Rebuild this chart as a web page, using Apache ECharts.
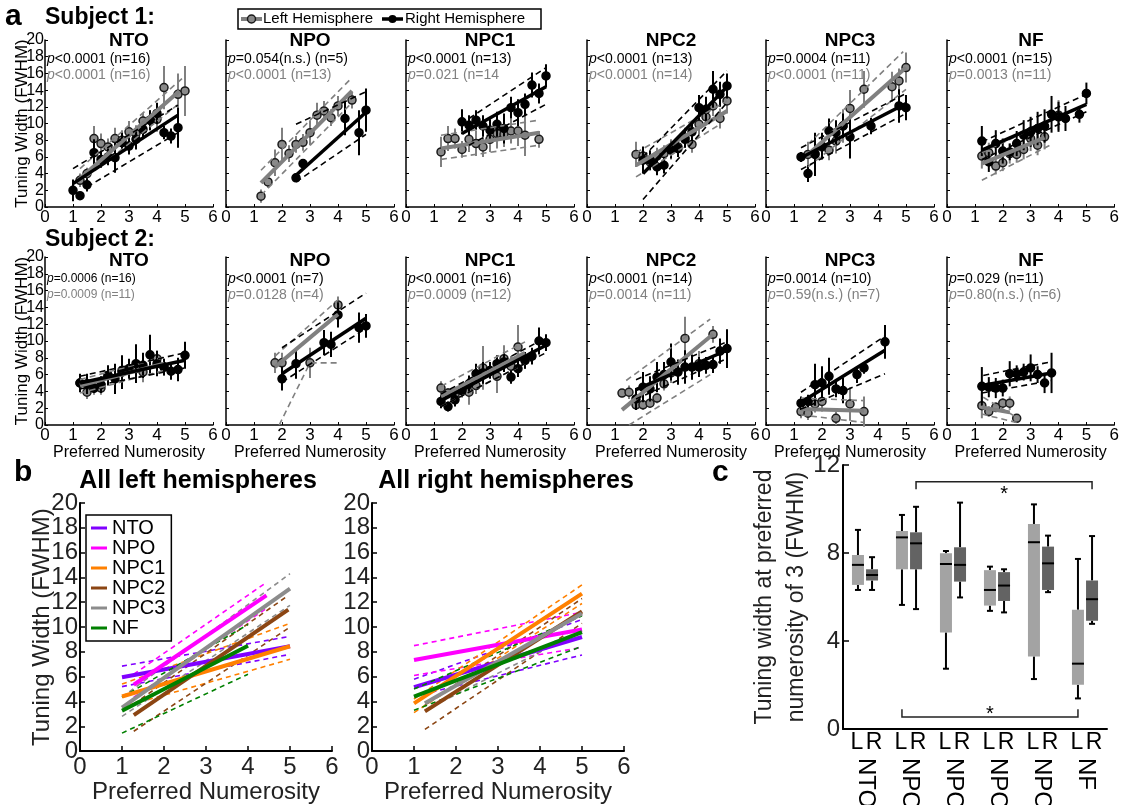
<!DOCTYPE html>
<html>
<head>
<meta charset="utf-8">
<script src="https://cdn.jsdelivr.net/npm/echarts@6/dist/echarts.min.js"></script>
<style>
  html, body { margin: 0; background: #fff; }
  #chart { width: 1122px; height: 805px; }
</style>
</head>
<body>
<div id="chart"></div>
<script>
  var REGIONS = ['NTO', 'NPO', 'NPC1', 'NPC2', 'NPC3', 'NF'];

  // ---- panel a : points are [preferred numerosity, FWHM, error half length]
  // fits are [fit line, upper bound, lower bound], each a flat list x1,y1,x2,y2(,x3,y3)
  var S1_NTO_L = [[1.25,3.2,0.8],[1.5,4.0,0.7],[1.75,8.2,1.5],[2.0,7.6,1.2],[2.25,7.2,1.0],[2.5,8.2,1.3],[2.75,8.0,1.2],[3.0,9.0,1.3],[3.25,8.8,1.0],[3.5,10.3,1.0],[3.75,10.4,1.2],[4.0,10.5,1.5],[4.25,14.3,2.6],[4.75,13.5,2.5],[5.0,13.9,3.0]];
  var S1_NTO_R = [[1.0,2.0,1.3],[1.25,1.35,0.4],[1.5,2.65,0.8],[1.75,6.5,1.6],[2.0,5.7,1.0],[2.25,6.0,1.0],[2.5,5.9,1.8],[2.75,7.7,1.2],[3.0,7.3,1.0],[3.25,8.1,1.2],[3.5,9.3,1.0],[3.75,10.4,1.2],[4.0,11.2,1.3],[4.25,8.9,0.8],[4.5,8.5,0.9],[4.75,9.5,2.4]];
  var S1_NTO_LFIT = [[1.25,3.4,4.8,13.9],[1.25,4.6,4.9,15.4],[1.5,3.6,4.8,12.4]];
  var S1_NTO_RFIT = [[1.0,2.8,4.75,11.0],[1.0,4.6,4.75,12.2],[1.5,2.4,4.75,8.9]];

  var S1_NPO_L = [[1.25,1.3,0.8],[1.5,3.0,0.7],[1.75,5.3,1.6],[2.0,7.5,2.0],[2.25,6.4,1.0],[2.5,7.5,1.0],[2.75,7.75,1.0],[3.0,8.9,1.5],[3.25,11.0,1.5],[3.5,11.5,1.2],[3.75,10.7,1.0],[4.0,12.1,1.2],[4.5,12.8,1.0]];
  var S1_NPO_R = [[2.5,3.5,0.5],[2.75,5.2,0.5],[4.25,10.6,2.0],[4.75,8.9,2.7],[5.0,11.6,2.6]];
  var S1_NPO_LFIT = [[1.25,2.9,4.5,13.9],[1.25,4.4,4.5,15.5],[1.25,1.4,4.5,12.5]];
  var S1_NPO_RFIT = [[2.5,3.8,5.0,11.35],[2.5,9.9,5.0,13.8],[2.5,3.0,5.0,8.7]];

  var S1_NPC1_L = [[1.25,6.6,1.8],[1.5,8.2,1.5],[1.75,8.2,1.2],[2.0,6.9,1.0],[2.25,8.1,1.5],[2.5,7.6,1.5],[2.75,7.2,1.2],[3.0,8.1,1.5],[3.25,8.8,1.8],[3.5,8.7,1.5],[3.75,9.1,1.5],[4.0,9.1,1.8],[4.25,8.6,2.5],[4.75,8.1,1.0]];
  var S1_NPC1_R = [[2.0,10.2,1.5],[2.25,9.8,1.2],[2.5,10.4,1.2],[2.75,9.7,1.3],[3.0,9.2,1.3],[3.25,9.9,1.5],[3.5,9.4,1.8],[3.75,11.9,1.3],[4.0,11.3,1.6],[4.25,12.3,1.3],[4.5,14.6,1.5],[4.75,13.6,1.2],[5.0,15.7,1.4]];
  var S1_NPC1_LFIT = [[1.25,7.0,4.75,8.9],[1.25,8.6,4.75,10.4],[1.25,5.7,4.75,7.4]];
  var S1_NPC1_RFIT = [[2.0,8.8,5.0,14.4],[2.25,10.6,5.0,16.7],[2.25,7.4,5.0,12.3]];

  var S1_NPC2_L = [[1.75,6.3,1.5],[2.0,6.1,1.2],[2.25,5.4,1.0],[2.5,6.1,1.0],[2.75,6.4,1.0],[3.0,6.9,1.2],[3.25,7.2,1.0],[3.5,8.3,1.2],[3.75,7.5,1.0],[4.0,9.9,1.2],[4.25,10.8,1.0],[4.5,12.1,1.2],[4.75,10.6,1.2],[5.0,12.7,1.5]];
  var S1_NPC2_R = [[2.0,5.6,1.6],[2.25,5.6,1.2],[2.5,4.8,1.0],[2.75,5.0,1.0],[3.0,6.8,1.0],[3.25,7.0,1.0],[3.5,8.1,1.0],[3.75,9.0,1.2],[4.0,11.9,1.5],[4.25,11.7,1.5],[4.5,14.1,2.2],[4.75,13.5,1.5],[5.0,14.5,1.5]];
  var S1_NPC2_LFIT = [[1.75,5.0,5.0,11.5],[1.75,6.5,5.0,12.7],[1.75,3.6,4.75,9.9]];
  var S1_NPC2_RFIT = [[2.0,4.0,5.0,14.4],[2.0,6.0,5.0,16.3],[2.0,0.9,5.0,12.5]];

  var S1_NPC3_L = [[1.5,6.3,1.5],[1.75,6.4,1.5],[2.0,7.2,1.2],[2.25,6.8,1.2],[2.5,7.9,1.5],[2.75,9.7,2.0],[3.0,11.8,2.2],[3.5,14.1,2.2],[4.5,14.4,1.8],[4.75,15.1,1.5],[5.0,16.7,1.8]];
  var S1_NPC3_R = [[1.25,6.0,0.6],[1.5,4.0,1.0],[1.75,6.3,2.6],[2.0,7.3,1.6],[2.25,9.1,1.5],[2.5,8.9,1.5],[2.75,9.7,1.5],[3.0,8.4,2.6],[3.75,9.7,1.0],[4.75,12.1,2.0],[5.0,11.9,1.5]];
  var S1_NPC3_LFIT = [[1.5,6.3,5.0,16.7],[1.5,7.5,4.9,18.6],[1.5,4.8,5.0,14.1]];
  var S1_NPC3_RFIT = [[1.25,5.9,5.0,12.4],[1.25,7.1,5.0,13.6],[1.25,4.5,5.0,11.2]];

  var S1_NF_L = [[1.25,6.1,1.5],[1.5,6.5,1.2],[1.75,4.9,1.0],[2.0,5.3,1.0],[2.25,6.4,1.2],[2.5,6.3,1.0],[2.75,6.9,1.2],[3.0,8.2,1.5],[3.25,7.4,1.2],[3.5,8.4,1.5],[4.0,11.0,1.8]];
  var S1_NF_R = [[1.25,7.9,1.8],[1.5,5.4,1.2],[1.75,7.6,1.6],[2.0,6.7,1.5],[2.25,6.6,1.0],[2.5,7.6,1.5],[2.75,8.6,1.8],[3.0,9.0,1.8],[3.25,9.4,2.0],[3.5,9.7,2.0],[3.75,11.1,2.2],[4.0,10.8,1.8],[4.25,10.6,1.5],[4.75,11.1,1.0],[5.0,13.6,1.3]];
  var S1_NF_LFIT = [[1.25,5.2,3.5,8.3],[1.25,6.5,4.0,10.9],[1.25,3.2,3.75,7.5]];
  var S1_NF_RFIT = [[1.25,6.8,5.0,12.3],[1.25,7.8,5.0,13.5],[1.25,5.7,5.0,11.4]];

  var S2_NTO_L = [[1.25,5.0,1.0],[1.5,3.9,0.8],[1.75,4.4,0.8],[2.0,4.4,0.8],[2.25,5.9,1.0],[2.75,6.5,1.2],[3.0,6.7,1.0],[3.25,6.7,1.5],[3.5,6.3,1.2],[4.0,7.9,1.0],[4.25,6.9,1.0]];
  var S2_NTO_R = [[1.25,5.0,1.1],[1.5,4.9,1.2],[1.75,4.4,0.6],[2.0,4.8,1.0],[2.25,5.9,1.2],[2.5,5.5,1.8],[2.75,6.3,2.0],[3.0,6.7,1.2],[3.25,7.3,2.3],[3.5,7.1,1.5],[3.75,8.35,2.4],[4.0,7.3,1.5],[4.25,6.9,1.0],[4.5,6.4,1.0],[4.75,6.6,1.4],[5.0,8.3,1.6]];
  var S2_NTO_LFIT = [[1.25,4.7,4.25,7.3],[1.25,5.4,4.25,8.1],[1.25,3.8,4.25,6.5]];
  var S2_NTO_RFIT = [[1.25,5.0,5.0,7.7],[1.25,5.8,5.0,8.6],[1.25,4.3,5.0,6.8]];

  var S2_NPO_L = [[1.75,7.4,1.2],[2.0,7.4,1.2],[3.0,7.4,1.8],[4.0,14.3,1.0]];
  var S2_NPO_R = [[2.0,5.5,1.4],[2.5,7.3,1.8],[3.5,9.8,1.5],[3.75,9.6,1.5],[4.0,13.1,1.5],[4.75,11.6,1.8],[5.0,11.8,1.4]];
  var S2_NPO_LFIT = [[1.75,6.9,4.0,13.2],[1.75,8.2,4.0,14.9],[1.9,0,3.0,7.4,4.0,7.4]];
  var S2_NPO_RFIT = [[2.0,6.1,5.0,12.7],[2.0,9.2,5.0,15.7],[2.0,5.1,5.0,11.5]];

  var S2_NPC1_L = [[1.25,4.4,0.8],[1.5,3.8,0.6],[1.75,3.6,0.6],[2.0,4.1,0.8],[2.25,3.9,1.5],[2.5,4.7,1.0],[2.75,6.8,2.6],[3.25,5.8,2.0],[3.5,7.9,1.6],[3.75,7.0,1.2],[4.0,9.3,2.6],[4.25,7.7,1.0]];
  var S2_NPC1_R = [[1.25,2.8,0.8],[1.5,2.2,0.6],[1.75,3.0,0.8],[2.0,4.1,0.8],[2.25,4.9,1.0],[2.5,6.1,1.2],[2.75,6.2,1.3],[3.0,6.5,1.0],[3.25,7.3,1.0],[3.5,7.5,1.2],[3.75,5.7,0.8],[4.0,6.7,1.0],[4.25,7.7,1.0],[4.5,8.2,1.0],[4.75,10.0,1.6],[5.0,9.8,1.0]];
  var S2_NPC1_LFIT = [[1.25,3.4,4.25,8.6],[1.25,4.6,4.25,9.9],[1.25,2.2,4.25,7.3]];
  var S2_NPC1_RFIT = [[1.25,2.9,5.0,9.5],[1.25,3.7,5.0,10.4],[1.25,2.2,5.0,8.6]];

  var S2_NPC2_L = [[1.25,3.8,0.5],[1.5,3.9,0.8],[1.75,2.4,0.6],[2.0,2.4,0.6],[2.25,2.6,0.5],[2.5,3.2,0.6],[2.75,4.9,0.8],[3.0,6.2,1.2],[3.5,10.3,2.6],[4.0,7.3,1.5],[4.5,10.8,1.0]];
  var S2_NPC2_R = [[1.75,3.1,1.3],[2.0,4.5,1.8],[2.25,4.3,1.5],[2.5,5.7,1.8],[2.75,6.0,1.5],[3.0,7.5,2.2],[3.25,6.3,1.5],[3.5,6.9,2.0],[3.75,6.9,1.5],[4.0,6.9,1.2],[4.25,7.1,1.0],[4.5,7.2,1.0],[4.75,8.8,1.5],[5.0,9.1,2.3]];
  var S2_NPC2_LFIT = [[1.25,1.8,4.5,10.8],[1.4,5.3,4.4,12.6],[1.5,0,4.4,6.0]];
  var S2_NPC2_RFIT = [[1.75,4.2,5.0,8.9],[1.75,5.4,5.0,9.9],[1.75,3.1,5.0,7.9]];

  var S2_NPC3_L = [[1.25,1.6,0.8],[1.5,1.4,0.8],[1.75,2.5,1.0],[2.0,2.8,1.2],[2.5,0.8,0.8],[3.0,2.5,2.0],[3.5,1.6,1.8]];
  var S2_NPC3_R = [[1.25,2.6,0.8],[1.5,2.8,0.8],[1.75,4.8,2.5],[2.0,5.0,2.0],[2.25,5.8,2.2],[2.5,4.3,1.0],[2.75,4.1,1.5],[3.25,6.0,1.0],[3.5,6.8,0.7],[4.25,9.9,2.0]];
  var S2_NPC3_LFIT = [[1.25,1.9,3.5,1.7],[1.25,3.2,3.5,2.9],[1.25,1.2,3.5,0.3]];
  var S2_NPC3_RFIT = [[1.25,2.7,4.25,8.9],[1.25,3.9,4.25,10.6],[1.25,1.9,4.25,6.1]];

  var S2_NF_L = [[1.25,2.3,1.5],[1.5,1.6,0.6],[1.75,2.1,0.6],[2.0,2.6,0.6],[2.25,2.6,0.8],[2.5,0.8,0.5]];
  var S2_NF_R = [[1.25,4.6,2.3],[1.5,4.5,1.2],[1.75,4.4,1.2],[2.0,4.4,1.0],[2.25,6.1,1.5],[2.5,6.1,1.0],[2.75,6.3,1.0],[3.0,6.8,1.6],[3.25,6.0,1.0],[3.5,5.0,1.2],[3.75,6.2,2.4]];
  var S2_NF_LFIT = [[1.25,2.1,2.25,1.5],[1.3,3.3,2.5,0.9],[1.25,1.3,2.5,0.3]];
  var S2_NF_RFIT = [[1.25,4.7,3.75,6.2],[1.3,5.9,3.7,7.5],[1.25,3.8,3.75,5.3]];

  // p-values (black = right hemisphere, grey = left hemisphere), the leading italic p is added when drawn
  var S1_P_RIGHT = ['<0.0001 (n=16)', '=0.054(n.s.) (n=5)', '<0.0001 (n=13)', '<0.0001 (n=13)', '=0.0004 (n=11)', '<0.0001 (n=15)'];
  var S1_P_LEFT  = ['<0.0001 (n=16)', '<0.0001 (n=13)', '=0.021 (n=14', '<0.0001 (n=14)', '<0.0001 (n=11)', '=0.0013 (n=11)'];
  var S2_P_RIGHT = ['=0.0006 (n=16)', '<0.0001 (n=7)', '<0.0001 (n=16)', '<0.0001 (n=14)', '=0.0014 (n=10)', '=0.029 (n=11)'];
  var S2_P_LEFT  = ['=0.0009 (n=11)', '=0.0128 (n=4)', '=0.0009 (n=12)', '=0.0014 (n=11)', '=0.59(n.s.) (n=7)', '=0.80(n.s.) (n=6)'];

  // ---- panel b : group fits, [x1, y1, x2, y2] per region
  var ALL_L_FIT = [[1,5.95,5,8.45],[1.28,5.35,4.44,12.55],[1,4.4,5,8.45],[1.28,2.9,4.96,11.4],[1,3.5,5,13.1],[1,3.25,4,8.5]];
  var ALL_L_HI  = [[1,6.85,5,9.25],[1.28,6.2,4.44,13.6],[1,5.4,5,10.3],[1.28,3.8,4.96,12.55],[1,4.35,5,14.3],[1,4.35,4,10.2]];
  var ALL_L_LO  = [[1,5.2,5,7.8],[1.28,4.35,4.44,11.5],[1,3.55,5,7.4],[1.28,1.6,4.96,9.9],[1,2.8,5,11.75],[1,1.45,4,6.2]];
  var ALL_R_FIT = [[1,5.15,5,9.2],[1,7.35,5,9.8],[1,3.85,5,12.7],[1.26,3.2,5,11.25],[1.26,3.85,5,11.1],[1,4.4,5,9.6]];
  var ALL_R_HI  = [[1,5.8,5,10.6],[1,8.5,5,11.2],[1,4.2,5,13.4],[1.26,3.7,5,12.3],[1.26,4.4,5,12.7],[1,5.0,5,10.9]];
  var ALL_R_LO  = [[1,4.4,5,7.75],[1,6.1,5,8.35],[1,3.1,5,11.9],[1.26,1.75,5,10.3],[1.26,3.3,5,9.7],[1,3.3,5,8.45]];

  // ---- panel c : [lower whisker, q1, median, q3, upper whisker]
  var BOX_L = [[6.32,6.55,7.46,7.91,9.05],[5.64,7.26,8.71,9.0,9.73],[2.74,4.39,7.5,7.99,8.09],[5.37,5.61,6.32,7.22,7.38],[2.27,3.3,8.49,9.32,10.21],[1.39,2.01,2.97,5.42,7.73]];
  var BOX_R = [[6.32,6.75,7.0,7.26,7.81],[5.45,7.26,8.44,8.94,10.1],[5.98,6.7,7.46,8.26,10.29],[5.3,5.82,6.52,7.13,7.26],[6.22,6.32,7.53,8.29,8.79],[4.78,4.92,5.9,6.75,8.77]];
  // significance brackets: [from region, from hemi (0 L, 1 R), to region, to hemi, bar level, end level]
  var SIG = [[1,1,5,1,11.24,10.9],[1,0,5,0,0.55,0.9]];

  var FONT = "'Liberation Sans', Arial, Helvetica, sans-serif";
  var GREY = '#808080';
  var REGION_COLORS = ['#8000ff', '#ff00ff', '#ff8000', '#8b4513', '#8c8c8c', '#008000'];

  var grids = [], xAxes = [], yAxes = [], series = [], gfx = [];

  function pairs(flat) {
    var out = [];
    for (var i = 0; i < flat.length; i += 2) out.push([flat[i], flat[i + 1]]);
    return out;
  }

  function lineSeries(gi, flat, color, width, type, z, name) {
    return {
      type: 'line', name: name, xAxisIndex: gi, yAxisIndex: gi, data: pairs(flat),
      showSymbol: false, symbol: 'none', color: color,
      lineStyle: { color: color, width: width, type: type },
      silent: true, animation: false, z: z
    };
  }

  function errSeries(gi, pts, color, width, z) {
    return {
      type: 'custom', xAxisIndex: gi, yAxisIndex: gi, data: pts, encode: { x: 0, y: 1 },
      silent: true, animation: false, z: z,
      renderItem: function(params, api) {
        var x = api.value(0), y = api.value(1), e = api.value(2);
        var a = api.coord([x, y - e]), b = api.coord([x, y + e]);
        return { type: 'line', shape: { x1: a[0], y1: a[1], x2: b[0], y2: b[1] },
                 style: { stroke: color, lineWidth: width } };
      }
    };
  }

  function dotSeries(gi, pts, fill, border, z) {
    return {
      type: 'scatter', xAxisIndex: gi, yAxisIndex: gi,
      data: pts.map(function(p) { return [p[0], p[1]]; }),
      symbolSize: 8, itemStyle: { color: fill, borderColor: border, borderWidth: 1.5, opacity: 1 },
      silent: true, animation: false, z: z
    };
  }

  function text(x, y, str, size, opts) {
    opts = opts || {};
    return {
      type: 'text', x: x, y: y, rotation: opts.rotation || 0, silent: true,
      style: {
        text: str, fill: opts.color || '#000', fontSize: size, fontFamily: FONT,
        fontWeight: opts.bold ? 'bold' : 'normal', rich: opts.rich,
        align: opts.align || 'left', textAlign: opts.align || 'left',
        verticalAlign: 'middle', textVerticalAlign: 'middle', lineHeight: opts.lineHeight
      }
    };
  }

  function pText(x, y, s, color, size) {
    return text(x, y, '{i|p}' + s, size, {
      color: color,
      rich: { i: { fontStyle: 'italic', fontSize: size, fontFamily: FONT, fill: color, color: color } }
    });
  }

  var axisLine = { onZero: false, lineStyle: { color: '#000', width: 1.5 } };

  // ================= panel a =================
  var A_LEFTS = [45, 226, 406, 587, 766, 947];
  var A_WIDTH = 168;
  var A_TOPS = [40, 257];
  var A_HEIGHTS = [167, 168];
  var A_SUBJECTS = [
    { label: 'Subject 1:', pR: S1_P_RIGHT, pL: S1_P_LEFT, panels: [
      [S1_NTO_L, S1_NTO_R, S1_NTO_LFIT, S1_NTO_RFIT], [S1_NPO_L, S1_NPO_R, S1_NPO_LFIT, S1_NPO_RFIT],
      [S1_NPC1_L, S1_NPC1_R, S1_NPC1_LFIT, S1_NPC1_RFIT], [S1_NPC2_L, S1_NPC2_R, S1_NPC2_LFIT, S1_NPC2_RFIT],
      [S1_NPC3_L, S1_NPC3_R, S1_NPC3_LFIT, S1_NPC3_RFIT], [S1_NF_L, S1_NF_R, S1_NF_LFIT, S1_NF_RFIT]] },
    { label: 'Subject 2:', pR: S2_P_RIGHT, pL: S2_P_LEFT, panels: [
      [S2_NTO_L, S2_NTO_R, S2_NTO_LFIT, S2_NTO_RFIT], [S2_NPO_L, S2_NPO_R, S2_NPO_LFIT, S2_NPO_RFIT],
      [S2_NPC1_L, S2_NPC1_R, S2_NPC1_LFIT, S2_NPC1_RFIT], [S2_NPC2_L, S2_NPC2_R, S2_NPC2_LFIT, S2_NPC2_RFIT],
      [S2_NPC3_L, S2_NPC3_R, S2_NPC3_LFIT, S2_NPC3_RFIT], [S2_NF_L, S2_NF_R, S2_NF_LFIT, S2_NF_RFIT]] }
  ];

  A_SUBJECTS.forEach(function(subj, row) {
    subj.panels.forEach(function(pan, col) {
      var gi = grids.length;
      var left = A_LEFTS[col], top = A_TOPS[row];
      grids.push({ left: left, top: top, width: A_WIDTH, height: A_HEIGHTS[row] });
      xAxes.push({
        gridIndex: gi, type: 'value', min: 0, max: 6, interval: 1,
        axisLine: axisLine, axisTick: { inside: true, length: 3, lineStyle: { color: '#000' } },
        axisLabel: { color: '#000', fontSize: 17, fontFamily: FONT, margin: 2 },
        splitLine: { show: false },
        name: row === 1 ? 'Preferred Numerosity' : '', nameLocation: 'middle', nameGap: 17,
        nameTextStyle: { color: '#000', fontSize: 16, fontFamily: FONT }
      });
      yAxes.push({
        gridIndex: gi, type: 'value', min: 0, max: 20, interval: 2,
        axisLine: axisLine, axisTick: { inside: true, length: 3, lineStyle: { color: '#000' } },
        axisLabel: { show: col === 0, color: '#000', fontSize: 16, fontFamily: FONT, margin: 1 },
        splitLine: { show: false },
        name: col === 0 ? 'Tuning Width (FWHM)' : '', nameLocation: 'middle', nameGap: 14,
        nameMoveOverlap: false,
        nameTextStyle: { color: '#000', fontSize: 17, fontFamily: FONT }
      });
      var L = pan[0], R = pan[1], LF = pan[2], RF = pan[3];
      series.push(errSeries(gi, L, GREY, 2, 2));
      series.push(dotSeries(gi, L, '#8a8a8a', '#1a1a1a', 3));
      series.push(errSeries(gi, R, '#000', 2, 4));
      series.push(dotSeries(gi, R, '#000', '#000', 5));
      series.push(lineSeries(gi, LF[1], GREY, 1.6, [6, 4], 6));
      series.push(lineSeries(gi, LF[2], GREY, 1.6, [6, 4], 6));
      series.push(lineSeries(gi, LF[0], GREY, 4, 'solid', 7));
      series.push(lineSeries(gi, RF[1], '#000', 1.6, [6, 4], 8));
      series.push(lineSeries(gi, RF[2], '#000', 1.6, [6, 4], 8));
      series.push(lineSeries(gi, RF[0], '#000', 3.5, 'solid', 9));

      var cx = left + A_WIDTH / 2;
      var tY = row === 0 ? 41 : 261;
      gfx.push(text(cx, tY, REGIONS[col], 19, { bold: true, align: 'center' }));
      var ps = (row === 1 && col === 0) ? 12 : 14;
      gfx.push(pText(left + 2, tY + 18, subj.pR[col], '#000', ps));
      gfx.push(pText(left + 2, tY + 34, subj.pL[col], GREY, ps));
    });
    gfx.push(text(45, row === 0 ? 18 : 240, subj.label, 23, { bold: true }));
  });
  gfx.push(text(5, 17, 'a', 30, { bold: true }));

  // legend of panel a
  gfx.push({ type: 'rect', shape: { x: 238, y: 9, width: 303, height: 20 }, silent: true,
             style: { fill: '#fff', stroke: '#000', lineWidth: 1.5 } });
  gfx.push({ type: 'line', shape: { x1: 241, y1: 19, x2: 262, y2: 19 }, silent: true, style: { stroke: GREY, lineWidth: 4 } });
  gfx.push({ type: 'circle', shape: { cx: 251.5, cy: 19, r: 4 }, silent: true, style: { fill: '#8a8a8a', stroke: '#1a1a1a', lineWidth: 1.5 } });
  gfx.push(text(263, 19, 'Left Hemisphere', 15));
  gfx.push({ type: 'line', shape: { x1: 382, y1: 19, x2: 403, y2: 19 }, silent: true, style: { stroke: '#000', lineWidth: 3.5 } });
  gfx.push({ type: 'circle', shape: { cx: 392.5, cy: 19, r: 4 }, silent: true, style: { fill: '#000' } });
  gfx.push(text(405, 19, 'Right Hemisphere', 15));

  // ================= panel b =================
  var B_LEFTS = [80, 372];
  var B_SETS = [[ALL_L_FIT, ALL_L_HI, ALL_L_LO], [ALL_R_FIT, ALL_R_HI, ALL_R_LO]];
  var B_TITLES = ['All left hemispheres', 'All right hemispheres'];
  var bAxisLine = { onZero: false, lineStyle: { color: '#000', width: 2 } };
  B_SETS.forEach(function(set, k) {
    var gi = grids.length;
    grids.push({ left: B_LEFTS[k], top: 503, width: 252, height: 252 });
    xAxes.push({
      gridIndex: gi, type: 'value', min: 0, max: 6, interval: 1,
      axisLine: bAxisLine, axisTick: { inside: true, length: 5, lineStyle: { color: '#000', width: 1.5 } },
      axisLabel: { color: '#222', fontSize: 24, fontFamily: FONT, margin: 4 },
      splitLine: { show: false },
      name: 'Preferred Numerosity', nameLocation: 'middle', nameGap: 22,
      nameTextStyle: { color: '#222', fontSize: 24, fontFamily: FONT }
    });
    yAxes.push({
      gridIndex: gi, type: 'value', min: 0, max: 20, interval: 2,
      axisLine: bAxisLine, axisTick: { inside: true, length: 5, lineStyle: { color: '#000', width: 1.5 } },
      axisLabel: { color: '#222', fontSize: 24, fontFamily: FONT, margin: 2 },
      splitLine: { show: false },
      name: k === 0 ? 'Tuning Width (FWHM)' : '', nameLocation: 'middle', nameGap: 26,
      nameMoveOverlap: false,
      nameTextStyle: { color: '#222', fontSize: 24, fontFamily: FONT }
    });
    REGIONS.forEach(function(r, i) {
      series.push(lineSeries(gi, set[0][i], REGION_COLORS[i], 4, 'solid', 10 + i, r));
      series.push(lineSeries(gi, set[1][i], REGION_COLORS[i], 1.6, [5, 4], 5 + i, r));
      series.push(lineSeries(gi, set[2][i], REGION_COLORS[i], 1.6, [5, 4], 5 + i, r));
    });
    gfx.push(text(B_LEFTS[k] + 118 + k * 16, 481, B_TITLES[k], 25, { bold: true, align: 'center' }));
  });
  gfx.push(text(14, 473, 'b', 30, { bold: true }));

  // ================= panel c =================
  var gC = grids.length;
  grids.push({ left: 843, top: 465, width: 264, height: 264 });
  xAxes.push({
    gridIndex: gC, type: 'value', min: 0.5, max: 6.5,
    axisLine: bAxisLine, axisTick: { show: false }, axisLabel: { show: false }, splitLine: { show: false }
  });
  yAxes.push({
    gridIndex: gC, type: 'value', min: 0, max: 12, interval: 4,
    axisLine: bAxisLine, axisTick: { inside: true, length: 6, lineStyle: { color: '#000', width: 1.5 } },
    axisLabel: { color: '#222', fontSize: 24, fontFamily: FONT, margin: 3 },
    splitLine: { show: false }
  });
  var HEMI_OFF = 0.16, BOX_COLORS = ['#a3a3a3', '#636363'], HEMI_LABELS = ['L', 'R'];
  var boxData = [];
  BOX_L.forEach(function(b, i) { boxData.push([i, 0].concat(b)); });
  BOX_R.forEach(function(b, i) { boxData.push([i, 1].concat(b)); });
  series.push({
    type: 'custom', xAxisIndex: gC, yAxisIndex: gC, data: boxData, encode: { x: 0, y: 4 },
    silent: true, animation: false, clip: false, z: 5,
    renderItem: function(params, api) {
      var ri = api.value(0), h = api.value(1);
      var x = ri + 1 + (h ? HEMI_OFF : -HEMI_OFF);
      var pw0 = api.coord([x, api.value(2)]), pq1 = api.coord([x, api.value(3)]);
      var pm = api.coord([x, api.value(4)]), pq3 = api.coord([x, api.value(5)]);
      var pw1 = api.coord([x, api.value(6)]);
      var pc = api.coord([ri + 1, 0]);
      var cx = pm[0], hw = 6, base = pc[1];
      var blk = { stroke: '#000', lineWidth: 2 };
      var kids = [
        { type: 'line', shape: { x1: cx, y1: pq3[1], x2: cx, y2: pw1[1] }, style: blk },
        { type: 'line', shape: { x1: cx, y1: pq1[1], x2: cx, y2: pw0[1] }, style: blk },
        { type: 'line', shape: { x1: cx - 3, y1: pw1[1], x2: cx + 3, y2: pw1[1] }, style: blk },
        { type: 'line', shape: { x1: cx - 3, y1: pw0[1], x2: cx + 3, y2: pw0[1] }, style: blk },
        { type: 'rect', shape: { x: cx - hw, y: pq3[1], width: 2 * hw, height: pq1[1] - pq3[1] },
          style: { fill: BOX_COLORS[h] } },
        { type: 'line', shape: { x1: cx - hw, y1: pm[1], x2: cx + hw, y2: pm[1] }, style: blk },
        { type: 'text', x: pc[0] + (h ? 9 : -8), y: base + 14,
          style: { text: HEMI_LABELS[h], fill: '#000', fontSize: 23, fontFamily: FONT,
          align: 'center', textAlign: 'center', verticalAlign: 'middle', textVerticalAlign: 'middle' } }
      ];
      if (h === 0) {
        kids.push({ type: 'text', x: pc[0] + 1, y: base + 29, rotation: -Math.PI / 2,
          style: { text: REGIONS[ri], fill: '#000', fontSize: 24, fontFamily: FONT,
          align: 'left', textAlign: 'left', verticalAlign: 'middle', textVerticalAlign: 'middle' } });
      }
      return { type: 'group', children: kids };
    }
  });
  series.push({
    type: 'custom', xAxisIndex: gC, yAxisIndex: gC, data: SIG, encode: { x: 0, y: 4 },
    silent: true, animation: false, clip: false, z: 6,
    renderItem: function(params, api) {
      var xa = api.value(0) + 1 + (api.value(1) ? HEMI_OFF : -HEMI_OFF);
      var xb = api.value(2) + 1 + (api.value(3) ? HEMI_OFF : -HEMI_OFF);
      var a0 = api.coord([xa, api.value(5)]), a1 = api.coord([xa, api.value(4)]);
      var b1 = api.coord([xb, api.value(4)]), b0 = api.coord([xb, api.value(5)]);
      return { type: 'group', children: [
        { type: 'polyline', shape: { points: [a0, a1, b1, b0] }, style: { stroke: '#222', lineWidth: 1.5, fill: null } },
        { type: 'text', x: (a0[0] + b0[0]) / 2, y: a0[1] + 5, style: { text: '*', fill: '#000', fontSize: 20, fontFamily: FONT,
          align: 'center', textAlign: 'center', verticalAlign: 'middle', textVerticalAlign: 'middle' } }
      ] };
    }
  });
  gfx.push(text(781, 597, 'Tuning width at preferred\nnumerosity of 3 (FWHM)', 23,
    { rotation: Math.PI / 2, align: 'center', lineHeight: 32, color: '#222' }));
  gfx.push(text(712, 473, 'c', 30, { bold: true }));

  var chart = echarts.init(document.getElementById('chart'), null, { renderer: 'canvas' });
  chart.setOption({
    backgroundColor: '#fff',
    animation: false,
    textStyle: { fontFamily: FONT },
    grid: grids,
    xAxis: xAxes,
    yAxis: yAxes,
    legend: {
      data: REGIONS, left: 86, top: 515, orient: 'vertical', icon: 'rect',
      itemWidth: 16, itemHeight: 3, itemGap: 0, padding: [3, 6, 3, 5],
      borderColor: '#000', borderWidth: 1.5, backgroundColor: '#fff', selectedMode: false,
      textStyle: { fontSize: 20, fontFamily: FONT, color: '#000', lineHeight: 18 }
    },
    series: series,
    graphic: { elements: gfx }
  });
</script>
</body>
</html>
